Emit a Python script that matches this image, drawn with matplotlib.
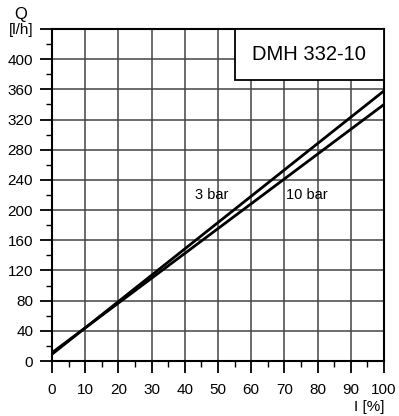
import matplotlib.pyplot as plt
from matplotlib.patches import Rectangle
from matplotlib.ticker import MultipleLocator

plt.rcParams['font.family'] = ['Liberation Sans', 'DejaVu Sans']

stroke = [0, 100]
q_3bar = [9, 358]
q_10bar = [11, 340]
y_ticks = [0, 40, 80, 120, 160, 200, 240, 280, 320, 360, 400, 440]
y_labels = ['0', '40', '80', '120', '160', '200', '240', '280', '320', '360', '400', '[l/h]']
title = 'DMH 332-10'

fig = plt.figure(figsize=(3.99, 4.16), dpi=100)
ax = fig.add_axes([0.1303, 0.1322, 0.8321, 0.7981])

ax.plot(stroke, q_3bar, color='black', lw=2, zorder=3)
ax.plot(stroke, q_10bar, color='black', lw=2, zorder=3)
ax.text(43, 220, '3 bar', fontsize=10.5, va='center', zorder=4)
ax.text(70.5, 220, '10 bar', fontsize=10.5, va='center', zorder=4)

ax.set_xlim(0, 100)
ax.set_ylim(0, 440)
ax.xaxis.set_major_locator(MultipleLocator(10))
ax.xaxis.set_minor_locator(MultipleLocator(5))
ax.set_yticks(y_ticks)
ax.set_yticklabels(y_labels)
ax.yaxis.set_minor_locator(MultipleLocator(20))
ax.tick_params(which='major', direction='out', length=8.5, width=1.3, labelsize=11, pad=5)
ax.tick_params(axis='x', which='major', pad=7)
ax.tick_params(which='minor', direction='out', length=4, width=1)
ax.grid(True, which='major', color='#444444', lw=1.1, zorder=1)
for s in ax.spines.values():
    s.set_linewidth(1.5)

box = Rectangle((55, 372), 45, 68, facecolor='white', edgecolor='black', lw=1.3, zorder=5)
ax.add_patch(box)
ax.text(77.5, 406, title, fontsize=14.5, ha='center', va='center', zorder=6)

fig.text(21 / 399, 1 - 15 / 416, 'Q', fontsize=12, ha='center', va='center')
fig.text(384 / 399, 1 - 407 / 416, 'I [%]', fontsize=11, ha='right', va='center')

fig.savefig('out.png', dpi=100)
